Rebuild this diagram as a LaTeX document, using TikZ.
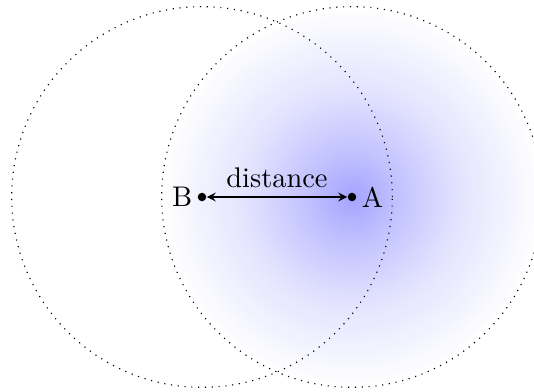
\documentclass[tikz,border=0pt]{standalone}
\pgfdeclareradialshading{ashade}{\pgfpoint{0bp}{0bp}}{color(0bp)=(blue!36); color(6bp)=(blue!24); color(14bp)=(blue!11); color(25bp)=(white); color(50bp)=(white)}
\begin{document}
\begin{tikzpicture}[x=0.352pt,y=-0.352pt,
  dot/.style={circle,fill=black,inner sep=0pt,minimum size=3pt},
  ring/.style={dotted,line width=0.4pt}]
\useasboundingbox (0,0) rectangle (534,392);
\clip (0,0) rectangle (534,392);
\coordinate (cA) at (352,197);
\coordinate (cB) at (202,197);
\shade[shading=ashade] (cA) circle[radius=67pt];
\draw[ring] (cB) circle[radius=67pt];
\draw[ring] (cA) circle[radius=67pt];
\node[dot,label={[label distance=-1.8pt]left:B}] (B) at (cB) {};
\node[dot,label={[label distance=-1.8pt]right:A}] (A) at (cA) {};
\draw[<->,>=stealth] (B) -- node[above,inner sep=3pt] {distance} (A);
\end{tikzpicture}
\end{document}
